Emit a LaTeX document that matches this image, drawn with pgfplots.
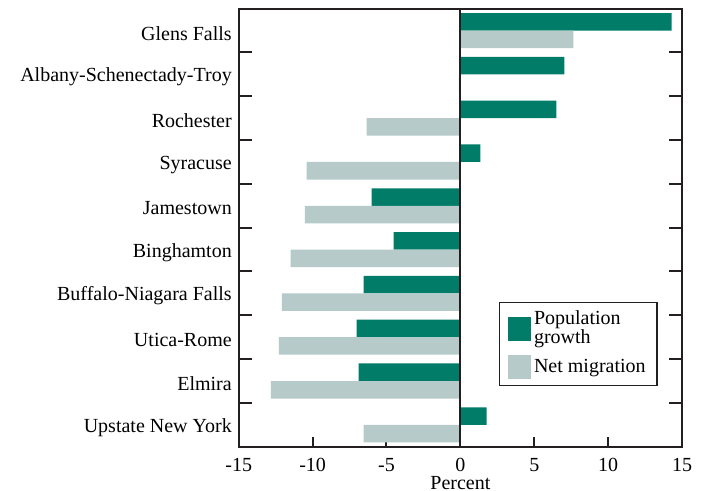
\documentclass[border=0pt]{standalone}
\usepackage{fontspec}
\setmainfont{Liberation Serif}
\usepackage{pgfplots}
\pgfplotsset{compat=1.18}
\definecolor{teal1}{HTML}{007C69}
\definecolor{grey1}{HTML}{B6CAC9}
\definecolor{axline}{HTML}{231F20}
\begin{document}
\fontsize{15bp}{14bp}\selectfont
\begin{tikzpicture}
\path[use as bounding box] (-179bp,-33.2bp) rectangle (346.7bp,335bp);
\begin{axis}[
  at={(0,0)}, anchor=south west,
  scale only axis, width=332.5bp, height=328.5bp,
  xmin=-15, xmax=15, ymin=-0.5, ymax=9.5,
  y dir=reverse,
  bar width=0.4,
  axis line style={axline, line width=1.5bp},
  tick style={axline, line width=1.5bp},
  tick align=inside,
  major tick length=9.75bp,
  xtick={-15,-10,...,15},
  xticklabels={\textrm{-15},\textrm{-10},\textrm{-5},\textrm{0},\textrm{5},\textrm{10},\textrm{15}},
  xtick pos=bottom,
  xtick style={/pgfplots/major tick length=7.5bp},
  ytick={0.5,1.5,...,8.5},
  yticklabels={},
  ytick pos=both,
  extra y ticks={0,1,...,9},
  extra y tick labels={Glens Falls,Albany-Schenectady-Troy,Rochester,Syracuse,Jamestown,Binghamton,Buffalo-Niagara Falls,Utica-Rome,Elmira,Upstate New York},
  extra y tick style={major tick length=0pt, yticklabel style={yshift=-2bp}},
  xticklabel style={yshift=-3.5bp},
  xlabel={Percent},
  xlabel style={yshift=7bp},
  legend style={at={(rel axis cs:0.5865,0.331)}, anchor=north west,
    draw=axline, line width=1bp, inner xsep=6.5bp, inner ysep=4.5bp,
    cells={anchor=west, align=left}, row sep=4.5bp,
    /tikz/every even column/.append style={column sep=1bp}},
  legend image code/.code={\fill[#1] (0bp,-9bp) rectangle (17.5bp,9bp);},
]
\addplot[xbar, bar shift=-0.2, fill=teal1, draw=none] coordinates {
  (14.3,0) (7.04,1) (6.5,2) (1.35,3) (-6.0,4) (-4.51,5) (-6.54,6) (-7.02,7) (-6.88,8) (1.78,9)};
\addlegendentry{Population\\[0bp]growth}
\addplot[xbar, bar shift=0.2, fill=grey1, draw=none] coordinates {
  (7.64,0) (-0.1,1) (-6.34,2) (-10.4,3) (-10.53,4) (-11.48,5) (-12.08,6) (-12.28,7) (-12.83,8) (-6.54,9)};
\addlegendentry{Net migration}
\addplot[axline, line width=1.5bp, forget plot] coordinates {(0,-0.5) (0,9.5)};
\end{axis}
\end{tikzpicture}
\end{document}
